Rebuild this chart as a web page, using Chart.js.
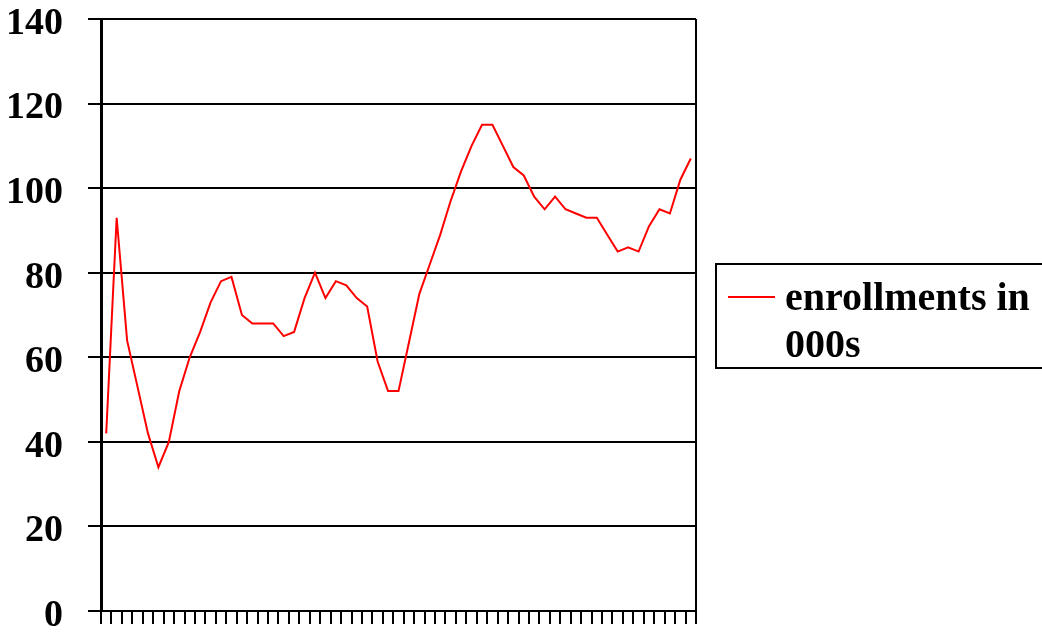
<!DOCTYPE html>
<html>
<head>
<meta charset="utf-8">
<script src="https://cdn.jsdelivr.net/npm/chart.js@4"></script>
<style>
  html, body { margin: 0; padding: 0; background: #fff; }
  #wrap { position: relative; width: 1042px; height: 633px; overflow: hidden; }
  #legend {
    position: absolute; left: 715px; top: 263px; width: 340px; height: 102px;
    border: 2px solid #000; box-sizing: content-box;
    font-family: 'Liberation Serif', 'Times New Roman', serif; font-weight: bold;
    font-size: 40px; line-height: 47px; color: #000;
  }
  #legend .swatch { position: absolute; left: 11px; top: 31px; width: 47px; height: 0; border-top: 2px solid #ff0000; }
  #legend .text { position: absolute; left: 68px; top: 8px; width: 320px; white-space: nowrap; }
</style>
</head>
<body>
<div id="wrap">
  <canvas id="c" width="1042" height="633"></canvas>
  <div id="legend"><div class="swatch"></div><div class="text" id="legendText"></div></div>
</div>
<script>
const seriesName = "enrollments in 000s";
const legendLines = ["enrollments in", "000s"];
const categories = ["1","2","3","4","5","6","7","8","9","10","11","12","13","14","15","16","17","18","19","20",
  "21","22","23","24","25","26","27","28","29","30","31","32","33","34","35","36","37","38","39","40",
  "41","42","43","44","45","46","47","48","49","50","51","52","53","54","55","56","57"];
const enrollments = [42, 93, 64, 53, 42, 34, 40, 52, 60, 66,
  73, 78, 79, 70, 68, 68, 68, 65, 66, 74,
  80, 74, 78, 77, 74, 72, 59, 52, 52, 63.5,
  75, 82, 89, 97, 104, 110, 115, 115, 110, 105,
  103, 98, 95, 98, 95, 94, 93, 93, 89, 85,
  86, 85, 91, 95, 94, 102, 107];
const yTicks = [0, 20, 40, 60, 80, 100, 120, 140];

document.getElementById('legendText').innerHTML = legendLines.join('<br>');

const rightBorder = {
  id: 'rightBorder',
  afterDraw(chart) {
    const { ctx, chartArea } = chart;
    ctx.save();
    ctx.strokeStyle = '#000';
    ctx.lineWidth = 2;
    ctx.beginPath();
    ctx.moveTo(chartArea.right, chartArea.top);
    ctx.lineTo(chartArea.right, chartArea.bottom);
    ctx.stroke();
    ctx.restore();
  }
};

new Chart(document.getElementById('c'), {
  type: 'line',
  data: {
    labels: categories,
    datasets: [{
      label: seriesName,
      data: enrollments,
      borderColor: '#ff0000',
      backgroundColor: '#ff0000',
      borderWidth: 2,
      pointRadius: 0,
      tension: 0,
      fill: false
    }]
  },
  options: {
    responsive: false,
    animation: false,
    devicePixelRatio: 1,
    layout: { autoPadding: false, padding: { top: 19, right: 346, left: 0, bottom: 0 } },
    plugins: { legend: { display: false }, tooltip: { enabled: false } },
    scales: {
      x: {
        offset: true,
        grid: { offset: true, drawOnChartArea: false, drawTicks: true, tickLength: 13, color: '#000', lineWidth: 2 },
        border: { display: true, color: '#000', width: 2 },
        ticks: { display: false },
        afterFit(scale) { scale.height = 22; scale.paddingLeft = 0; scale.paddingRight = 0; }
      },
      y: {
        min: 0, max: 140,
        afterBuildTicks(scale) { scale.ticks = yTicks.map(v => ({ value: v })); },
        grid: { color: '#000', lineWidth: 2, drawTicks: true, tickLength: 13 },
        border: { display: true, color: '#000', width: 3 },
        ticks: {
          padding: 25,
          labelOffset: 5,
          color: '#000',
          font: { family: "'Liberation Serif', 'Times New Roman', serif", weight: 'bold', size: 38 }
        },
        afterFit(scale) { scale.width = 101; scale.paddingTop = 0; scale.paddingBottom = 0; }
      }
    }
  },
  plugins: [rightBorder]
});
</script>
</body>
</html>
